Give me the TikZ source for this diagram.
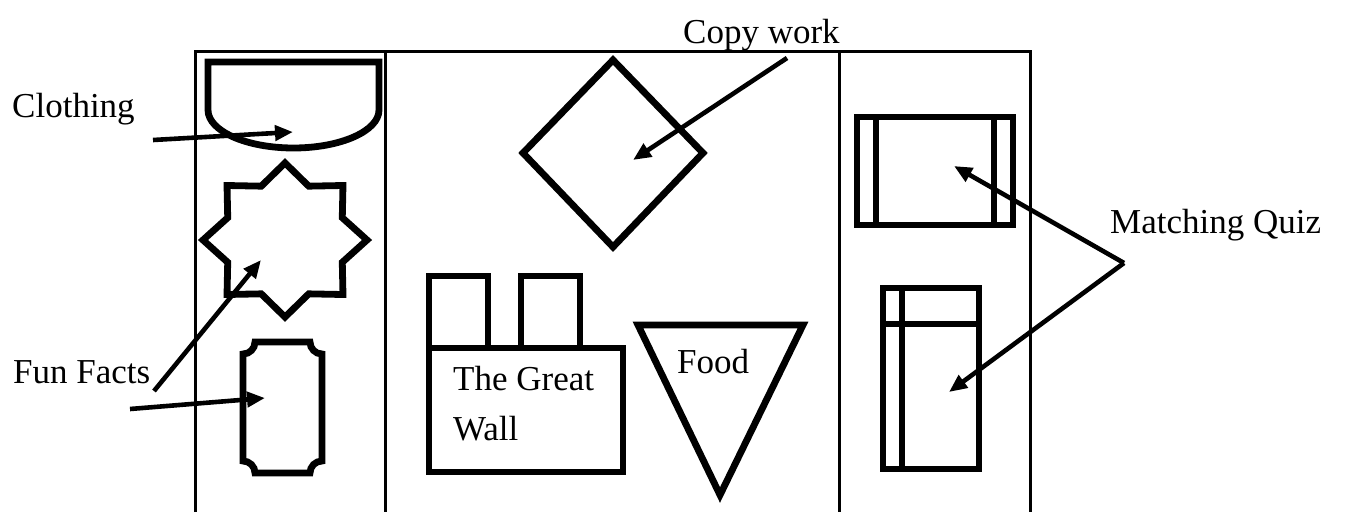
\documentclass[tikz,border=0pt]{standalone}
\usepackage{fontspec}
\setmainfont{Liberation Serif}
\usetikzlibrary{arrows.meta}
\begin{document}
\begin{tikzpicture}[x=1pt,y=-1pt,
  frame/.style={line width=3pt},
  shp/.style={line width=6.8pt, line join=miter},
  arr/.style={line width=4.6pt, -{Triangle[length=18pt,width=15pt]}},
  lbl/.style={font=\fontsize{35}{42}\selectfont, inner sep=0pt, anchor=base west}]
\useasboundingbox (0,0) rectangle (1346,512);
% frame
\draw[frame] (195,512) -- (195,51) -- (1030,51) -- (1030,512);
\draw[frame] (385,51) -- (385,512);
\draw[frame] (839,51) -- (839,512);
% labels
\node[lbl] (clothing) at (12,117) {Clothing};
\node[lbl] (funfacts) at (13,383) {Fun Facts};
\node[lbl] (copywork) at (683,43) {Copy work};
\node[lbl] (quiz) at (1110,233) {Matching Quiz};
\node[lbl] (wallA) at (453,390) {The Great};
\node[lbl] (wallB) at (453,440) {Wall};
\node[lbl] (food) at (677,373) {Food};
% clothing D shape
\draw[shp] (208,62) -- (379,62) -- (379,110) arc[start angle=0,end angle=180,x radius=85.5,y radius=38] -- cycle;
% star
\begin{scope}[shift={(285,240)}, yscale=0.94]
\draw[shp] (0:82) \foreach \a/\r in {22.5/62,45/82,67.5/62,90/82,112.5/62,135/82,157.5/62,180/82,202.5/62,225/82,247.5/62,270/82,292.5/62,315/82,337.5/62}{ -- (\a:\r) } -- cycle;
\end{scope}
% ticket
\draw[shp] (255,342) -- (310,342) arc[start angle=180,end angle=90,radius=12] -- (322,461) arc[start angle=270,end angle=180,radius=12] -- (255,473) arc[start angle=360,end angle=270,radius=12] -- (243,354) arc[start angle=90,end angle=0,radius=12] -- cycle;
% diamond
\draw[shp] (613,60) -- (703,153) -- (613,247) -- (523,153) -- cycle;
% great wall
\draw[shp] (429,348) rectangle (623,472);
\draw[shp] (429,348) -- (429,276) -- (488,276) -- (488,348);
\draw[shp] (521,348) -- (521,276) -- (580,276) -- (580,348);
% food triangle
\draw[shp] (638,325) -- (803,325) -- (720,495) -- cycle;
% right rectangles
\draw[shp] (857,117) rectangle (1013,225);
\draw[shp] (876,117) -- (876,225);
\draw[shp] (994,117) -- (994,225);
\draw[shp] (883,288) rectangle (979,469);
\draw[shp] (902,288) -- (902,469);
\draw[shp] (883,324) -- (979,324);
% arrows
\coordinate (clothT) at (153,140);
\coordinate (clothH) at (293,132);
\coordinate (ffT1) at (154,391);
\coordinate (ffH1) at (261,260);
\coordinate (ffT2) at (130,409);
\coordinate (ffH2) at (265,398);
\coordinate (cwT) at (787,58);
\coordinate (cwH) at (633,160);
\coordinate (mqT) at (1124,263);
\coordinate (mqH1) at (954,166);
\coordinate (mqH2) at (949,392);
\draw[arr] (clothT) -- (clothH);
\draw[arr] (ffT1) -- (ffH1);
\draw[arr] (ffT2) -- (ffH2);
\draw[arr] (cwT) -- (cwH);
\draw[arr] (mqT) -- (mqH1);
\draw[arr] (mqT) -- (mqH2);
\end{tikzpicture}
\end{document}
